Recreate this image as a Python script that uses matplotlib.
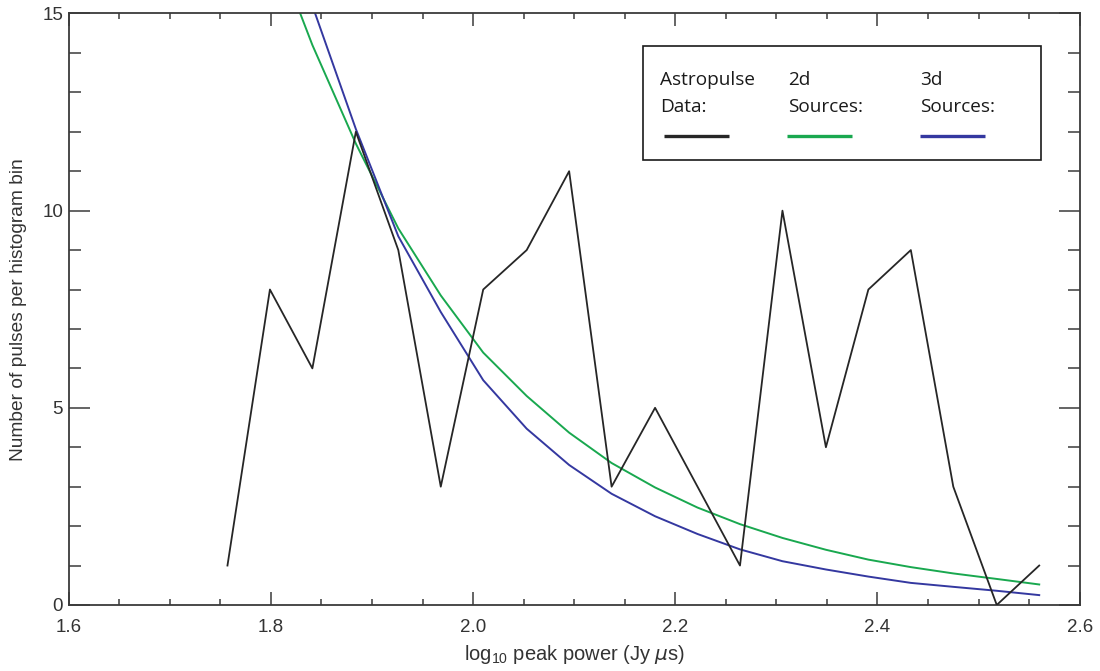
import numpy as np
import matplotlib.pyplot as plt
from matplotlib.patches import Rectangle
from matplotlib.ticker import MultipleLocator, FormatStrFormatter

plt.rcParams['font.family'] = ['Liberation Sans', 'DejaVu Sans']
plt.rcParams['mathtext.default'] = 'regular'

# histogram bin centres, log10 peak power
log_power = [1.757, 1.799, 1.841, 1.884, 1.926, 1.968, 2.010, 2.053, 2.095, 2.137,
             2.180, 2.222, 2.264, 2.306, 2.349, 2.391, 2.433, 2.475, 2.518, 2.560]
# pulses per bin
counts = [1, 8, 6, 12, 9, 3, 8, 9, 11, 3, 5, 3, 1, 10, 4, 8, 9, 3, 0, 1]
# model expectations at the same bins
model_2d = [21.0, 17.0, 14.2, 11.7, 9.55, 7.85, 6.4, 5.3, 4.37, 3.6,
            2.98, 2.47, 2.05, 1.7, 1.4, 1.15, 0.96, 0.8, 0.66, 0.52]
model_3d = [25.0, 19.5, 15.2, 12.07, 9.35, 7.43, 5.7, 4.47, 3.55, 2.82,
            2.25, 1.8, 1.41, 1.11, 0.9, 0.72, 0.56, 0.46, 0.36, 0.25]

black = '#262626'
green = '#19a84f'
blue = '#3438a0'
axis_col = '#3a3a3a'

fig = plt.figure(figsize=(11, 6.71), dpi=100)
ax = fig.add_axes([0.0625, 0.0984, 0.919, 0.8815])

ax.plot(log_power, model_2d, color=green, lw=1.4, zorder=2)
ax.plot(log_power, model_3d, color=blue, lw=1.4, zorder=2)
ax.plot(log_power, counts, color=black, lw=1.3, zorder=3)

ax.set_xlim(1.6, 2.6)
ax.set_ylim(0, 15)
ax.xaxis.set_major_locator(MultipleLocator(0.2))
ax.xaxis.set_minor_locator(MultipleLocator(0.05))
ax.xaxis.set_major_formatter(FormatStrFormatter('%.1f'))
ax.yaxis.set_major_locator(MultipleLocator(5))
ax.yaxis.set_minor_locator(MultipleLocator(1))

for s in ax.spines.values():
    s.set_color(axis_col)
    s.set_linewidth(1.3)
ax.tick_params(which='both', direction='in', top=True, right=True,
               color=axis_col, width=1.1, labelsize=13.5, labelcolor='#333333')
ax.tick_params(axis='x', which='major', length=9.5, pad=10)
ax.tick_params(axis='x', which='minor', length=4.5)
ax.tick_params(axis='y', which='major', length=15, pad=4)
ax.tick_params(axis='y', which='minor', length=8.5)

ax.set_xlabel(r'log$_{10}$ peak power (Jy $\mathit{\mu}$s)', fontsize=14.5,
              color='#333333', labelpad=5)
ax.set_ylabel('Number of pulses per histogram bin', fontsize=13.8,
              color='#333333', labelpad=11)

# legend box drawn by hand: text above each line sample
ax.add_patch(Rectangle((0.568, 0.752), 0.394, 0.193, transform=ax.transAxes,
                       fill=True, facecolor='white', edgecolor='#1a1a1a',
                       lw=1.2, zorder=5))
entries = [(0.585, 'Astropulse', 'Data:', black, 0.589, 0.653),
           (0.712, '2d', 'Sources:', green, 0.711, 0.775),
           (0.842, '3d', 'Sources:', blue, 0.842, 0.906)]
for tx, l1, l2, col, x0, x1 in entries:
    ax.text(tx, 0.879, l1, transform=ax.transAxes, fontsize=13.7,
            family=['Open Sans', 'DejaVu Sans'], color='#1a1a1a',
            va='baseline', zorder=6)
    ax.text(tx, 0.834, l2, transform=ax.transAxes, fontsize=13.7,
            family=['Open Sans', 'DejaVu Sans'], color='#1a1a1a',
            va='baseline', zorder=6)
    ax.plot([x0, x1], [0.793, 0.793], transform=ax.transAxes, color=col,
            lw=2.4, solid_capstyle='butt', zorder=6)

fig.savefig('out.png', dpi=100)
